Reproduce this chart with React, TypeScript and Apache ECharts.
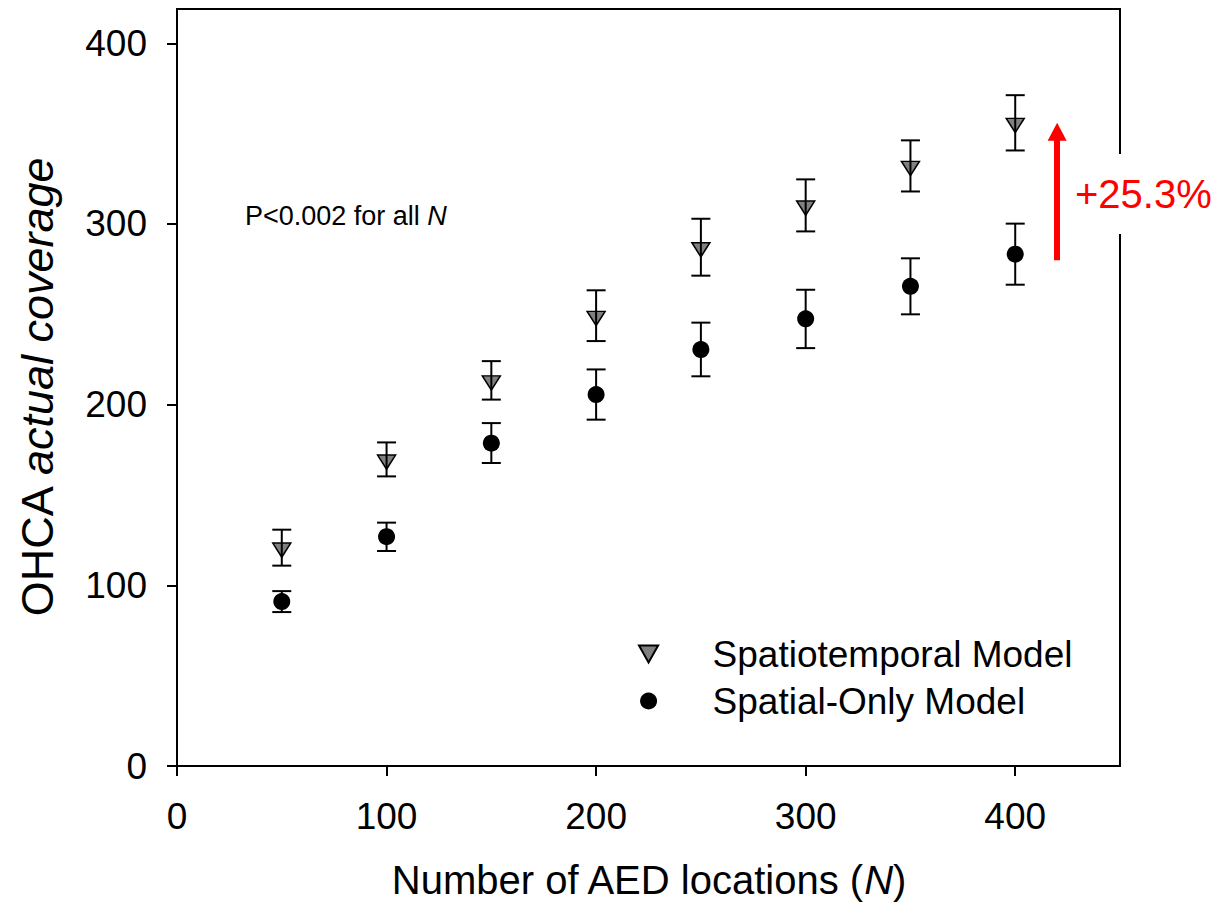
import React, { useEffect, useRef } from 'react';
import * as echarts from 'echarts';

const nValues = [50, 100, 150, 200, 250, 300, 350, 400];
const spatiotemporalMean = [121, 169.7, 213.5, 249.2, 287.2, 310.3, 332.2, 356];
const spatiotemporalLow = [110.9, 160.3, 202.8, 235.2, 271.4, 295.9, 318, 340.7];
const spatiotemporalHigh = [130.8, 179.1, 224.1, 263.3, 302.9, 324.7, 346.3, 371.3];
const spatialMean = [91, 126.9, 178.7, 205.6, 230.5, 247.5, 265.5, 283.3];
const spatialLow = [85.2, 119, 167.7, 191.7, 215.7, 231.3, 250, 266.4];
const spatialHigh = [96.8, 134.7, 189.8, 219.5, 245.4, 263.6, 281, 300.2];
const xTicks = [0, 100, 200, 300, 400];
const yTicks = [0, 100, 200, 300, 400];
const seriesNames = ['Spatiotemporal Model', 'Spatial-Only Model'];
const arrowX = 420;
const arrowFrom = 280;
const arrowTo = 351;
const arrowLabel = '+25.3%';
const noteText = 'P<0.002 for all ';

const FONT = '"Liberation Sans", Arial, sans-serif';

const errorBarSeries = (name: string, low: number[], high: number[]) => ({
  type: 'custom',
  name,
  z: 4,
  silent: true,
  encode: { x: 0, y: [1, 2] },
  data: nValues.map((x, i) => [x, low[i], high[i]]),
  renderItem: (_params: any, api: any) => {
    const x = api.value(0);
    const pLo = api.coord([x, api.value(1)]);
    const pHi = api.coord([x, api.value(2)]);
    const hw = 9.5;
    const style = { stroke: '#000', lineWidth: 2, fill: 'none' };
    return {
      type: 'group',
      children: [
        { type: 'line', shape: { x1: pLo[0], y1: pLo[1], x2: pHi[0], y2: pHi[1] }, style },
        { type: 'line', shape: { x1: pLo[0] - hw, y1: pLo[1], x2: pLo[0] + hw, y2: pLo[1] }, style },
        { type: 'line', shape: { x1: pHi[0] - hw, y1: pHi[1], x2: pHi[0] + hw, y2: pHi[1] }, style },
      ],
    };
  },
});

export default function App() {
  const ref = useRef<HTMLDivElement>(null);
  useEffect(() => {
    if (!ref.current) return;
    const chart = echarts.init(ref.current, undefined, { renderer: 'svg' });
    const option: any = {
      animation: false,
      backgroundColor: '#fff',
      grid: {
        left: 177,
        right: 101,
        top: 9,
        bottom: 152,
        show: true,
        borderColor: '#000',
        borderWidth: 2,
        backgroundColor: 'transparent',
      },
      xAxis: {
        type: 'value',
        min: 0,
        max: 450,
        interval: 100,
        axisLine: { show: true, onZero: false, lineStyle: { color: '#000', width: 2 } },
        axisTick: { show: true, length: 10, lineStyle: { color: '#000', width: 2 }, customValues: xTicks },
        axisLabel: { customValues: xTicks, fontSize: 37, color: '#000', fontFamily: FONT, margin: 32 },
        splitLine: { show: false },
        name: '{a|Number of AED locations (}{b|N}{a|)}',
        nameLocation: 'middle',
        nameGap: 94,
        nameTextStyle: {
          rich: {
            a: { fontSize: 40, fontFamily: FONT, color: '#000' },
            b: { fontSize: 40, fontFamily: FONT, color: '#000', fontStyle: 'italic' },
          },
        },
      },
      yAxis: {
        type: 'value',
        min: 0,
        max: 419,
        interval: 100,
        axisLine: { show: true, onZero: false, lineStyle: { color: '#000', width: 2 } },
        axisTick: { show: true, length: 10, lineStyle: { color: '#000', width: 2 }, customValues: yTicks },
        axisLabel: { customValues: yTicks, fontSize: 37, color: '#000', fontFamily: FONT, margin: 30 },
        splitLine: { show: false },
        name: '{a|OHCA }{b|actual coverage}',
        nameLocation: 'middle',
        nameRotate: 90,
        nameGap: 117,
        nameTextStyle: {
          rich: {
            a: { fontSize: 45, fontFamily: FONT, color: '#000' },
            b: { fontSize: 45, fontFamily: FONT, color: '#000', fontStyle: 'italic' },
          },
        },
      },
      legend: {
        data: seriesNames,
        orient: 'vertical',
        left: 633,
        top: 629,
        itemWidth: 118,
        itemHeight: 17,
        itemGap: 7,
        selectedMode: false,
        textStyle: { fontSize: 37, fontFamily: FONT, color: '#000', lineHeight: 40 },
      },
      graphic: [
        {
          type: 'text',
          x: 245,
          y: 216,
          z: 100,
          style: {
            text: '{a|' + noteText + '}{b|N}',
            verticalAlign: 'middle',
            align: 'left',
            rich: {
              a: { fontSize: 27, fontFamily: FONT, fill: '#000' },
              b: { fontSize: 27, fontFamily: FONT, fill: '#000', fontStyle: 'italic' },
            },
          },
        },
        {
          type: 'text',
          x: 1071,
          y: 194,
          z: 100,
          style: {
            text: arrowLabel,
            fontSize: 40,
            fontFamily: FONT,
            fill: '#ff0000',
            verticalAlign: 'middle',
            align: 'left',
            backgroundColor: '#fff',
            padding: [20, 4, 20, 4],
          },
        },
      ],
      series: [
        {
          type: 'scatter',
          name: seriesNames[0],
          z: 3,
          symbol: 'path://M0,0L18,0L9,16Z',
          symbolSize: [18, 16],
          symbolKeepAspect: true,
          symbolOffset: [0, 2.7],
          itemStyle: { color: '#808080', borderColor: '#000', borderWidth: 1.5, opacity: 1 },
          data: nValues.map((x, i) => [x, spatiotemporalMean[i]]),
          markLine: {
            silent: true,
            symbol: ['none', 'triangle'],
            symbolSize: [19, 18],
            label: { show: false },
            lineStyle: { color: '#ff0000', width: 6, type: 'solid' },
            itemStyle: { color: '#ff0000' },
            data: [[{ coord: [arrowX, arrowFrom] }, { coord: [arrowX, arrowTo] }]],
          },
        },
        {
          type: 'scatter',
          name: seriesNames[1],
          z: 3,
          symbol: 'circle',
          symbolSize: 17,
          symbolKeepAspect: true,
          itemStyle: { color: '#000', opacity: 1 },
          data: nValues.map((x, i) => [x, spatialMean[i]]),
        },
        errorBarSeries('errST', spatiotemporalLow, spatiotemporalHigh),
        errorBarSeries('errS', spatialLow, spatialHigh),
      ],
    };
    chart.setOption(option);
    return () => chart.dispose();
  }, []);
  return (
    <div
      ref={ref}
      style={{ position: 'fixed', left: 0, top: 0, width: 1221, height: 918, background: '#fff' }}
    />
  );
}
